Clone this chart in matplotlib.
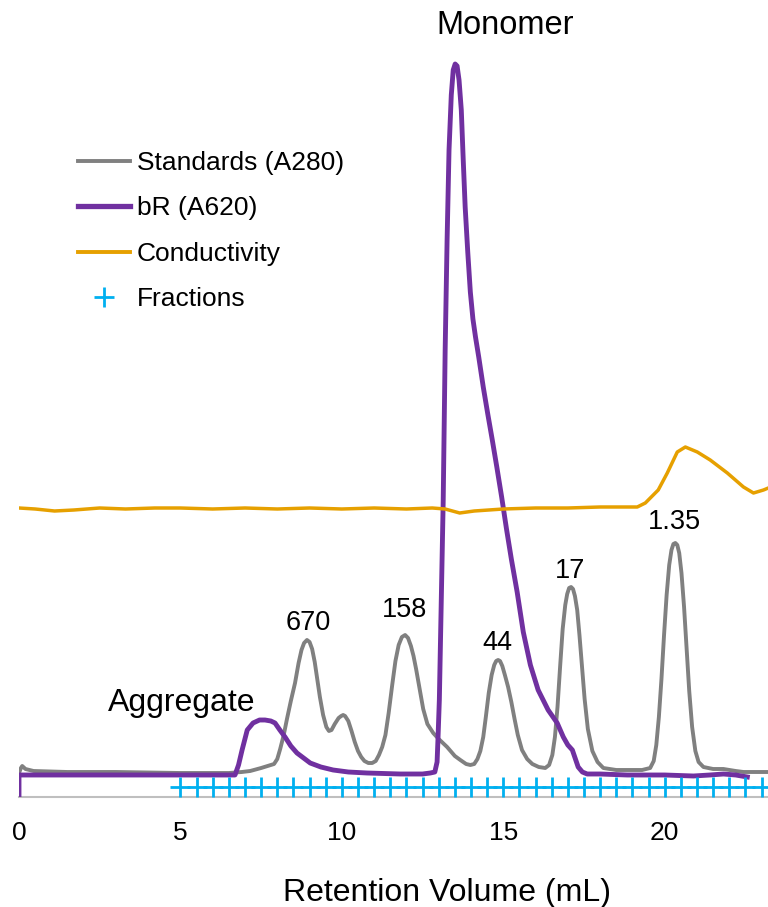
import numpy as np
import matplotlib
matplotlib.use("Agg")
import matplotlib.pyplot as plt
from matplotlib.lines import Line2D

plt.rcParams["font.family"] = ["Liberation Sans", "DejaVu Sans"]

# ---------------- data ----------------
# standards, A280
std_x = [0.0, 0.06, 0.1, 0.2, 0.45, 1.5, 3.0, 5.0, 6.5, 6.9, 7.16, 7.5, 7.7, 7.9,
         8.0, 8.09, 8.2, 8.3, 8.42, 8.55, 8.66, 8.75, 8.83, 8.92, 9.0, 9.08,
         9.16, 9.23, 9.32, 9.42, 9.52, 9.6, 9.68, 9.78, 9.9, 9.98, 10.04, 10.1,
         10.2, 10.3, 10.4, 10.5, 10.6, 10.7, 10.82, 10.94, 11.05, 11.15, 11.25,
         11.35, 11.45, 11.56, 11.66, 11.76, 11.86, 11.96, 12.05, 12.14, 12.22,
         12.3, 12.4, 12.52, 12.65, 12.83, 13.0, 13.26, 13.5, 13.67, 13.85, 13.98,
         14.1, 14.2, 14.29, 14.38, 14.46, 14.55, 14.64, 14.72, 14.78, 14.84, 14.9,
         14.97, 15.05, 15.15, 15.25, 15.35, 15.45, 15.58, 15.74, 15.9, 16.1, 16.3,
         16.42, 16.52, 16.6, 16.68, 16.76, 16.84, 16.92, 16.98, 17.04, 17.1,
         17.16, 17.22, 17.29, 17.36, 17.44, 17.52, 17.62, 17.76, 17.92, 18.1,
         18.5, 18.84, 19.3, 19.55, 19.66, 19.74, 19.82, 19.9, 19.98, 20.06, 20.14,
         20.21, 20.27, 20.33, 20.39, 20.45, 20.52, 20.6, 20.68, 20.76, 20.85,
         20.95, 21.05, 21.2, 21.5, 21.82, 22.2, 22.44, 23.2]
std_y = [24, 29, 31, 28, 26, 25, 25, 24, 24, 25, 26, 29, 31, 33,
         38, 48, 62, 78, 96, 114, 134, 147, 154, 157, 155, 148,
         135, 120, 100, 82, 70, 66, 67, 73, 79, 81, 82, 81,
         76, 66, 55, 46, 40, 36, 34, 34, 36, 42, 50,
         62, 84, 112, 136, 152, 160, 162, 159, 151, 141,
         128, 110, 88, 73, 64, 58, 50, 41, 37, 33, 32,
         33, 38, 46, 60, 80, 104, 122, 132, 136, 137, 136,
         131, 122, 110, 95, 78, 62, 47, 38, 33, 30, 29,
         32, 42, 60, 90, 130, 168, 192, 203, 209, 210,
         208, 201, 187, 162, 130, 98, 68, 46, 35, 29,
         27, 27, 27, 29, 36, 52, 80, 118, 162, 202, 232,
         247, 253, 254, 252, 244, 224, 190, 148, 106, 70,
         46, 35, 30, 28, 28, 26, 25, 25]

# bR, A620
br_x = [0.0, 0.0, 2.0, 4.0, 6.0, 6.69, 6.8, 6.91, 7.07, 7.25, 7.45, 7.62, 7.8,
        7.93, 8.08, 8.24, 8.42, 8.61, 9.02, 9.35, 9.73, 10.2, 10.78, 11.81, 12.5,
        12.74, 12.88, 12.95, 12.98, 13.02, 13.08, 13.14, 13.2, 13.26, 13.32,
        13.39, 13.45, 13.51, 13.57, 13.63, 13.7, 13.76, 13.82, 13.9, 13.98,
        14.06, 14.14, 14.24, 14.38, 14.52, 14.66, 14.8, 14.95, 15.1, 15.25,
        15.43, 15.62, 15.84, 16.08, 16.39, 16.67, 16.86, 17.0, 17.14, 17.32,
        17.45, 17.6, 18.0, 18.84, 20.0, 20.89, 21.4, 21.82, 22.2, 22.56]
br_y = [0, 22, 22, 22, 22, 22, 32, 47, 67, 74, 77, 77, 76,
        74, 67, 60, 51, 44, 34, 30, 27, 25, 24, 23, 23,
        24, 25, 35, 60, 97, 197, 297, 447, 557, 647,
        702, 727, 733, 731, 717, 687, 637, 590, 545, 505,
        478, 460, 440, 410, 383, 357, 330, 300, 268, 238,
        205, 165, 132, 107, 87, 74, 60, 52, 47, 30,
        25, 23, 23, 22, 22, 21, 22, 23, 22, 20]

# conductivity
cond_x = [0.0, 0.5, 1.1, 1.7, 2.5, 3.3, 4.2, 5.0, 6.0, 7.0, 8.0, 9.0, 10.0,
          11.0, 12.0, 12.8, 13.2, 13.65, 14.1, 15.0, 16.0, 17.0, 18.0, 19.15,
          19.4, 19.8, 20.08, 20.39, 20.64, 21.01, 21.41, 21.94, 22.44, 22.75,
          23.06, 23.21]
cond_y = [289, 288, 286, 287, 289, 288, 289, 289, 288, 289, 288, 289, 288,
          289, 288, 289, 288, 284, 286, 288, 289, 289, 290, 290,
          294, 307, 324, 345, 350, 345, 337, 324, 310, 304,
          307, 309]

# fractions
frac_x = [5.0, 5.5, 6.0, 6.5, 7.0, 7.5, 8.0, 8.5, 9.0, 9.5, 10.0, 10.5, 11.0,
          11.5, 12.0, 12.5, 13.0, 13.5, 14.0, 14.5, 15.0, 15.5, 16.0, 16.5,
          17.0, 17.5, 18.0, 18.5, 19.0, 19.5, 20.0, 20.5, 21.0, 21.5, 22.0,
          22.5, 23.0]
frac_level = 10

peak_labels = ["670", "158", "44", "17", "1.35"]
peak_pos = [(8.96, 174), (11.93, 187), (14.81, 154), (17.07, 226), (20.3, 275)]

xticks = [0, 5, 10, 15, 20]

# ---------------- figure ----------------
fig = plt.figure(figsize=(7.68, 9.07), dpi=100)
ax = fig.add_axes([19 / 768, 110 / 907, 749 / 768, 797 / 907])

gray = "#808080"
purple = "#7030A0"
orange = "#E6A000"
cyan = "#00B0F0"

ax.plot(std_x, std_y, color=gray, lw=2.8, zorder=2, solid_joinstyle="round")
ax.plot(br_x, br_y, color=purple, lw=3.5, zorder=3, solid_joinstyle="round")
ax.plot(cond_x, cond_y, color=orange, lw=2.5, zorder=4, solid_joinstyle="round")
ax.plot(frac_x, [frac_level] * len(frac_x), ls="none", marker="+",
        ms=14, mew=2, color=cyan, zorder=5)

ax.set_xlim(0, 23.2)
ax.set_ylim(0, 797)

for s in ["top", "right", "left"]:
    ax.spines[s].set_visible(False)
ax.spines["bottom"].set_color("#BFBFBF")
ax.spines["bottom"].set_linewidth(1.5)
ax.set_yticks([])
ax.set_xticks(xticks)
ax.tick_params(axis="x", length=0, pad=17, labelsize=19)
ax.set_xlabel("Retention Volume (mL)", fontsize=23)
ax.xaxis.set_label_coords((447 - 19) / 749, -96 / 797)
ax.xaxis.label.set_va("center")

ax.text(15.06, 772, "Monomer", ha="center", va="center", fontsize=23.5)
ax.text(5.05, 94, "Aggregate", ha="center", va="center", fontsize=23)
for lab, (px, py) in zip(peak_labels, peak_pos):
    ax.text(px, py, lab, ha="center", va="center", fontsize=19.5)

handles = [
    Line2D([], [], color=gray, lw=2.8),
    Line2D([], [], color=purple, lw=3.8),
    Line2D([], [], color=orange, lw=2.8),
    Line2D([], [], color=cyan, ls="none", marker="+", ms=14, mew=2),
]
labels = ["Standards (A280)", "bR (A620)", "Conductivity", "Fractions"]
ax.legend(handles, labels, loc="upper left", bbox_to_anchor=(78 / 768, 1 - 151 / 907),
          bbox_transform=fig.transFigure, frameon=False, fontsize=19,
          handlelength=1.97, handletextpad=0.27, labelspacing=0.81, borderpad=0,
          borderaxespad=0)

fig.savefig("out.png", dpi=100)
